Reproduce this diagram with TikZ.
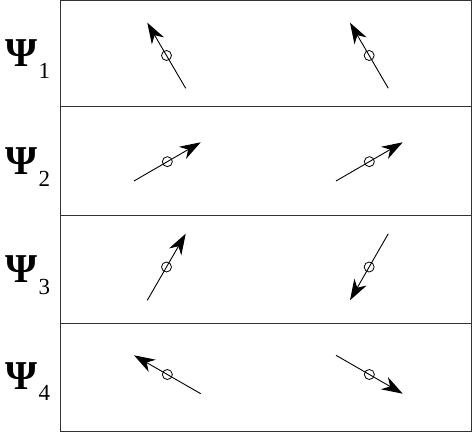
\documentclass[tikz,border=0pt]{standalone}
\usepackage{fontspec}
\setmainfont{Liberation Serif}
\usetikzlibrary{arrows.meta,calc}
\tikzset{
  frame/.style={draw=black!80, line width=1pt},
  vec/.style={draw=black, line width=0.9pt, -{Stealth[length=21pt,width=14pt,inset=6.5pt]}},
  pivot/.style={draw=black, circle, line width=0.8pt, minimum size=10pt, inner sep=0pt},
  psilabel/.style={anchor=base west, inner sep=0pt, font=\fontsize{41}{41}\selectfont\bfseries}
}
\newcommand{\psisub}[1]{\textbf{Ψ}\kern1.5pt\raisebox{-11.6pt}{\fontsize{23}{23}\selectfont\mdseries #1}}
\begin{document}
\begin{tikzpicture}[x=1pt,y=-1pt]
\useasboundingbox (0,0) rectangle (472,436);
% frame
\draw[frame] (60,1) rectangle (471,431);
\draw[frame] (60,107) -- (471,107);
\draw[frame] (60,215) -- (471,215);
\draw[frame] (60,323) -- (471,323);
% labels
\node[psilabel] (L1) at (5,66.7) {\psisub{1}};
\node[psilabel] (L2) at (5,174.7) {\psisub{2}};
\node[psilabel] (L3) at (5,282.7) {\psisub{3}};
\node[psilabel] (L4) at (5,389.3) {\psisub{4}};
% arrow end points
\coordinate (t1L) at (185.7,88.3);  \coordinate (h1L) at (147.3,22.7);
\coordinate (t1R) at (388.3,88.3);  \coordinate (h1R) at (350,22.7);
\coordinate (t2L) at (134,181);     \coordinate (h2L) at (200.7,142.3);
\coordinate (t2R) at (336,181);     \coordinate (h2R) at (402.7,142.3);
\coordinate (t3L) at (147.3,300.3); \coordinate (h3L) at (185.7,233.7);
\coordinate (t3R) at (388.3,233.7); \coordinate (h3R) at (350,300.3);
\coordinate (t4L) at (200.7,393.7); \coordinate (h4L) at (134,355.3);
\coordinate (t4R) at (336,355.3);   \coordinate (h4R) at (402.7,393.7);
\foreach \k in {1L,1R,2L,2R,3L,3R,4L,4R}{
  \draw[vec] (t\k) -- (h\k);
  \node[pivot] (c\k) at ($(t\k)!0.5!(h\k)$) {};
}
\end{tikzpicture}
\end{document}
